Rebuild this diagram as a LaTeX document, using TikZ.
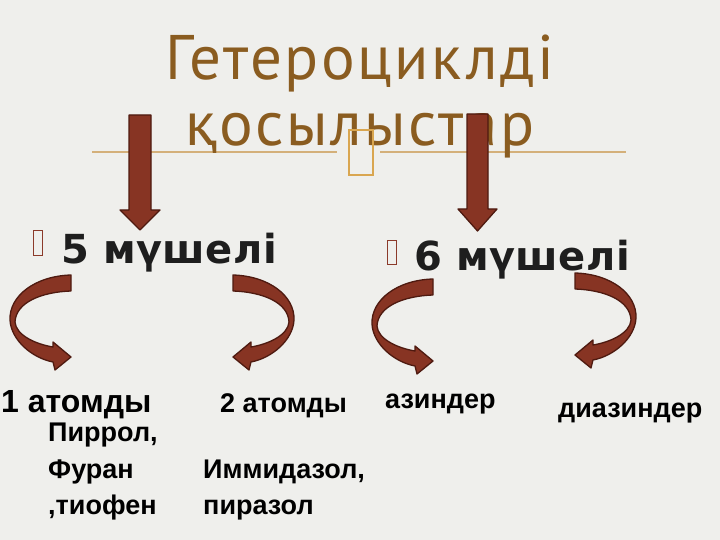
\documentclass[tikz,border=0pt]{standalone}
\usepackage{fontspec}
\setmainfont{Liberation Sans}
\newfontfamily\titlefont[LetterSpace=4]{PT Sans}
\newfontfamily\headfont[LetterSpace=1]{DejaVu Sans}
\definecolor{bgc}{HTML}{EFEFEC}
\definecolor{bge}{HTML}{E3E1D1}
\definecolor{bgk}{HTML}{D6D3BD}
\definecolor{arrowfill}{HTML}{873423}
\definecolor{arrowline}{HTML}{4E1A10}
\definecolor{titlec}{HTML}{8A5C20}
\definecolor{rulec}{HTML}{D4B07A}
\definecolor{tofuc}{HTML}{D9A650}
\definecolor{bulletc}{HTML}{8B3A2A}
\definecolor{headc}{HTML}{1E1E1E}
\pgfdeclareradialshading{vign}{\pgfpoint{0bp}{0bp}}{color(0bp)=(bgc); color(44bp)=(bgc); color(50bp)=(bge); color(71bp)=(bgk)}
\newcommand\carrowpath{(71,275) .. controls (35,276) and (9,296) .. (10,320)
      .. controls (11,340) and (32,358) .. (53,362) -- (55,370) -- (71,357) -- (53,342) -- (53,347)
      .. controls (35,344) and (16,335) .. (15,322)
      .. controls (16,302) and (42,292) .. (71,291) -- cycle}
\tikzset{
  blockarrow/.style={fill=arrowfill, draw=arrowline, line width=1.3pt, line join=round},
  titletext/.style={inner sep=0pt, text=titlec, font=\titlefont\fontsize{63}{70}\selectfont},
  headtext/.style={inner sep=0pt, text=headc, font=\headfont\bfseries\fontsize{40}{44}\selectfont},
  lbl/.style={inner sep=0pt, anchor=base west, text=black, font=\bfseries\fontsize{27}{32}\selectfont},
  biglbl/.style={lbl, font=\bfseries\fontsize{32}{38}\selectfont},
  rulestyle/.style={draw=rulec, line width=1.2pt},
  tofubox/.style={draw=tofuc, line width=2.4pt},
  bulletbox/.style={draw=bulletc, line width=0.9pt}
}
\begin{document}
\begin{tikzpicture}[x=1pt,y=-1pt]
\useasboundingbox (0,0) rectangle (720,540);
\fill[shading=vign] (0,0) rectangle (720,540);
% rule
\draw[rulestyle] (92,152) -- (337,152);
\draw[rulestyle] (380,152) -- (626,152);
% title
\node[titletext, anchor=base] (t1) at (360,80) {Гетероциклді};
\node[titletext, anchor=base] (t2) at (360,146) {қосылыстар};
\draw[tofubox] (349,130) rectangle (373,175);
% down arrows
\path[blockarrow] (129,115) -- (151,115) -- (151,210) -- (160,210) -- (140,230) -- (120,210) -- (129,210) -- cycle;
\path[blockarrow] (467,114) -- (488,114) -- (488,209) -- (497,209) -- (477.5,231) -- (458,209) -- (467,209) -- cycle;
% bullets and heads
\draw[bulletbox] (33,230) rectangle (42,255);
\draw[bulletbox] (387,240) rectangle (396,264);
\node[headtext, anchor=base west] (h5) at (61,263) {5 мүшелі};
\node[headtext, anchor=base west] (h6) at (414,270) {6 мүшелі};
% curved arrows
\path[blockarrow] \carrowpath;
\begin{scope}[xshift=304pt, xscale=-1] \path[blockarrow] \carrowpath; \end{scope}
\begin{scope}[xshift=362pt, yshift=-4pt] \path[blockarrow] \carrowpath; \end{scope}
\begin{scope}[xshift=646pt, yshift=2pt, xscale=-1] \path[blockarrow] \carrowpath; \end{scope}
% labels
\node[biglbl] (a1) at (1,412) {1 атомды};
\node[lbl] (a2) at (220,412) {2 атомды};
\node[lbl] (az) at (385,408) {азиндер};
\node[lbl] (dz) at (558,417) {диазиндер};
\node[lbl] (p1) at (48,441) {Пиррол,};
\node[lbl] (p2) at (48,478) {Фуран};
\node[lbl] (p3) at (48,514) {,тиофен};
\node[lbl] (i1) at (203,478) {Иммидазол,};
\node[lbl] (i2) at (203,514) {пиразол};
\end{tikzpicture}
\end{document}
